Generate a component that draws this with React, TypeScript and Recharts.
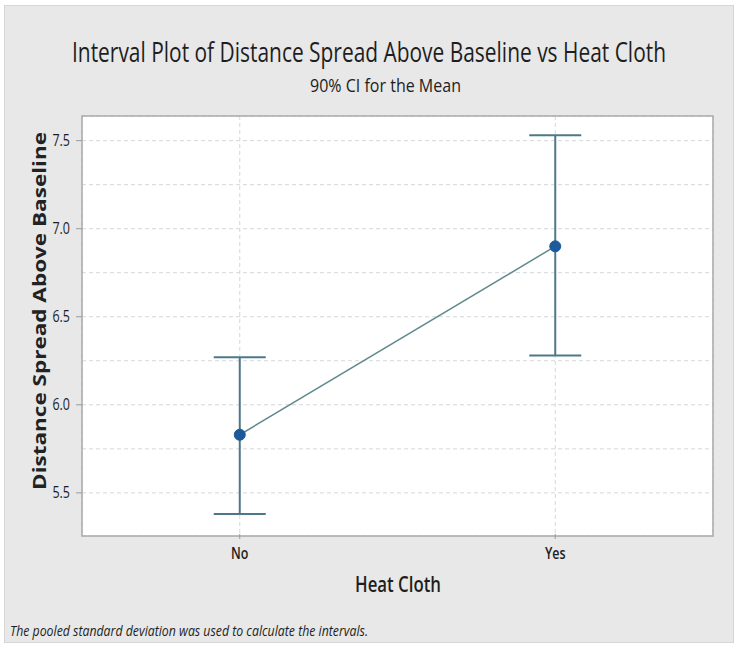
import React from 'react'
import {
  ComposedChart, Line, ErrorBar, XAxis, YAxis, CartesianGrid, ReferenceArea,
} from 'recharts'

const categories = ['No', 'Yes']
const means = [5.83, 6.9]
const lowerCI = [5.38, 6.28]
const upperCI = [6.27, 7.53]
const yTicks = [5.5, 5.75, 6.0, 6.25, 6.5, 6.75, 7.0, 7.25, 7.5]
const yLabelTicks = [5.5, 6.0, 6.5, 7.0, 7.5]
const yDomain = [5.255, 7.64]
const xDomain = [-0.5, 1.5]

const data = categories.map((name, i) => ({
  x: i,
  name,
  mean: means[i],
  err: [means[i] - lowerCI[i], upperCI[i] - means[i]],
}))

const FONT = '"Open Sans", "Noto Sans", sans-serif'
const BAR_COLOR = '#4e7888'
const LINE_COLOR = '#5f8a8c'
const DOT_COLOR = '#1c5a9c'
const SQUEEZE = 0.78

// text squeezed horizontally to mimic the condensed look of the original
function NarrowText({ x, y, width, size, weight = 400, italic = false, anchor = 'start', children }: any) {
  return (
    <text
      transform={`translate(${x}, ${y}) scale(${SQUEEZE}, 1)`}
      fontSize={size}
      fontWeight={weight}
      fontStyle={italic ? 'italic' : 'normal'}
      textAnchor={anchor}
      fill="#1e1e1e"
      fontFamily={FONT}
      textLength={width ? width / SQUEEZE : undefined}
      lengthAdjust="spacingAndGlyphs"
    >
      {children}
    </text>
  )
}

function YTick(props: any) {
  const { x, y, payload } = props
  if (!yLabelTicks.includes(payload.value)) return null
  return (
    <g>
      <line x1={x + 4} x2={x + 10} y1={y} y2={y} stroke="#9a9a9a" />
      <NarrowText x={x - 2} y={y + 5} size={16} anchor="end">{payload.value.toFixed(1)}</NarrowText>
    </g>
  )
}

function XTick(props: any) {
  const { x, y, payload } = props
  return (
    <g>
      <line x1={x} x2={x} y1={y - 10} y2={y - 5} stroke="#9a9a9a" />
      <NarrowText x={x} y={y + 15} size={16} weight={600} anchor="middle">{categories[payload.value]}</NarrowText>
    </g>
  )
}

export default function App() {
  return (
    <div style={{ position: 'absolute', left: 0, top: 0, width: 738, height: 647, background: '#fff' }}>
      <div style={{ position: 'absolute', left: 4, top: 5, width: 730, height: 638, background: '#e8e8e8', border: '1px solid #d6d6d6', boxSizing: 'border-box' }} />
      <div style={{ position: 'absolute', left: 0, top: 0 }}>
        <ComposedChart width={738} height={647} data={data} margin={{ top: 116, right: 25, bottom: 0, left: 0 }}>
          <CartesianGrid fill="#ffffff" stroke="#d2d8de" strokeDasharray="4 3" />
          <XAxis
            dataKey="x"
            type="number"
            domain={xDomain}
            ticks={[0, 1]}
            height={111}
            axisLine={false}
            tickLine={false}
            tick={<XTick />}
            allowDataOverflow
          />
          <YAxis
            type="number"
            domain={yDomain}
            ticks={yTicks}
            width={82}
            axisLine={false}
            tickLine={false}
            tickSize={6}
            tickMargin={4}
            tick={<YTick />}
            allowDataOverflow
          />
          <ReferenceArea x1={xDomain[0]} x2={xDomain[1]} y1={yDomain[0]} y2={yDomain[1]} fill="none" stroke="#a9a9a9" strokeWidth={1.5} />
          <Line
            dataKey="mean"
            type="linear"
            stroke={LINE_COLOR}
            strokeWidth={1.5}
            dot={{ r: 5.5, fill: DOT_COLOR, stroke: DOT_COLOR, strokeWidth: 1 }}
            isAnimationActive={false}
          >
            <ErrorBar dataKey="err" direction="y" width={26} stroke={BAR_COLOR} strokeWidth={2} isAnimationActive={false} />
          </Line>
        </ComposedChart>
      </div>
      <svg width={738} height={647} style={{ position: 'absolute', left: 0, top: 0, pointerEvents: 'none' }}>
        <NarrowText x={72} y={62} width={594} size={27} weight={500}>
          Interval Plot of Distance Spread Above Baseline vs Heat Cloth
        </NarrowText>
        <NarrowText x={310} y={92} width={151} size={18}>
          90% CI for the Mean
        </NarrowText>
        <text
          transform="translate(46, 311) rotate(-90)"
          textAnchor="middle"
          fontSize={18}
          fontWeight="bold"
          fill="#222"
          fontFamily={FONT}
          textLength={358}
          lengthAdjust="spacingAndGlyphs"
        >
          Distance Spread Above Baseline
        </text>
        <NarrowText x={355} y={592} width={86} size={21} weight={600}>
          Heat Cloth
        </NarrowText>
        <NarrowText x={10} y={636} width={358} size={14} italic>
          The pooled standard deviation was used to calculate the intervals.
        </NarrowText>
      </svg>
    </div>
  )
}
